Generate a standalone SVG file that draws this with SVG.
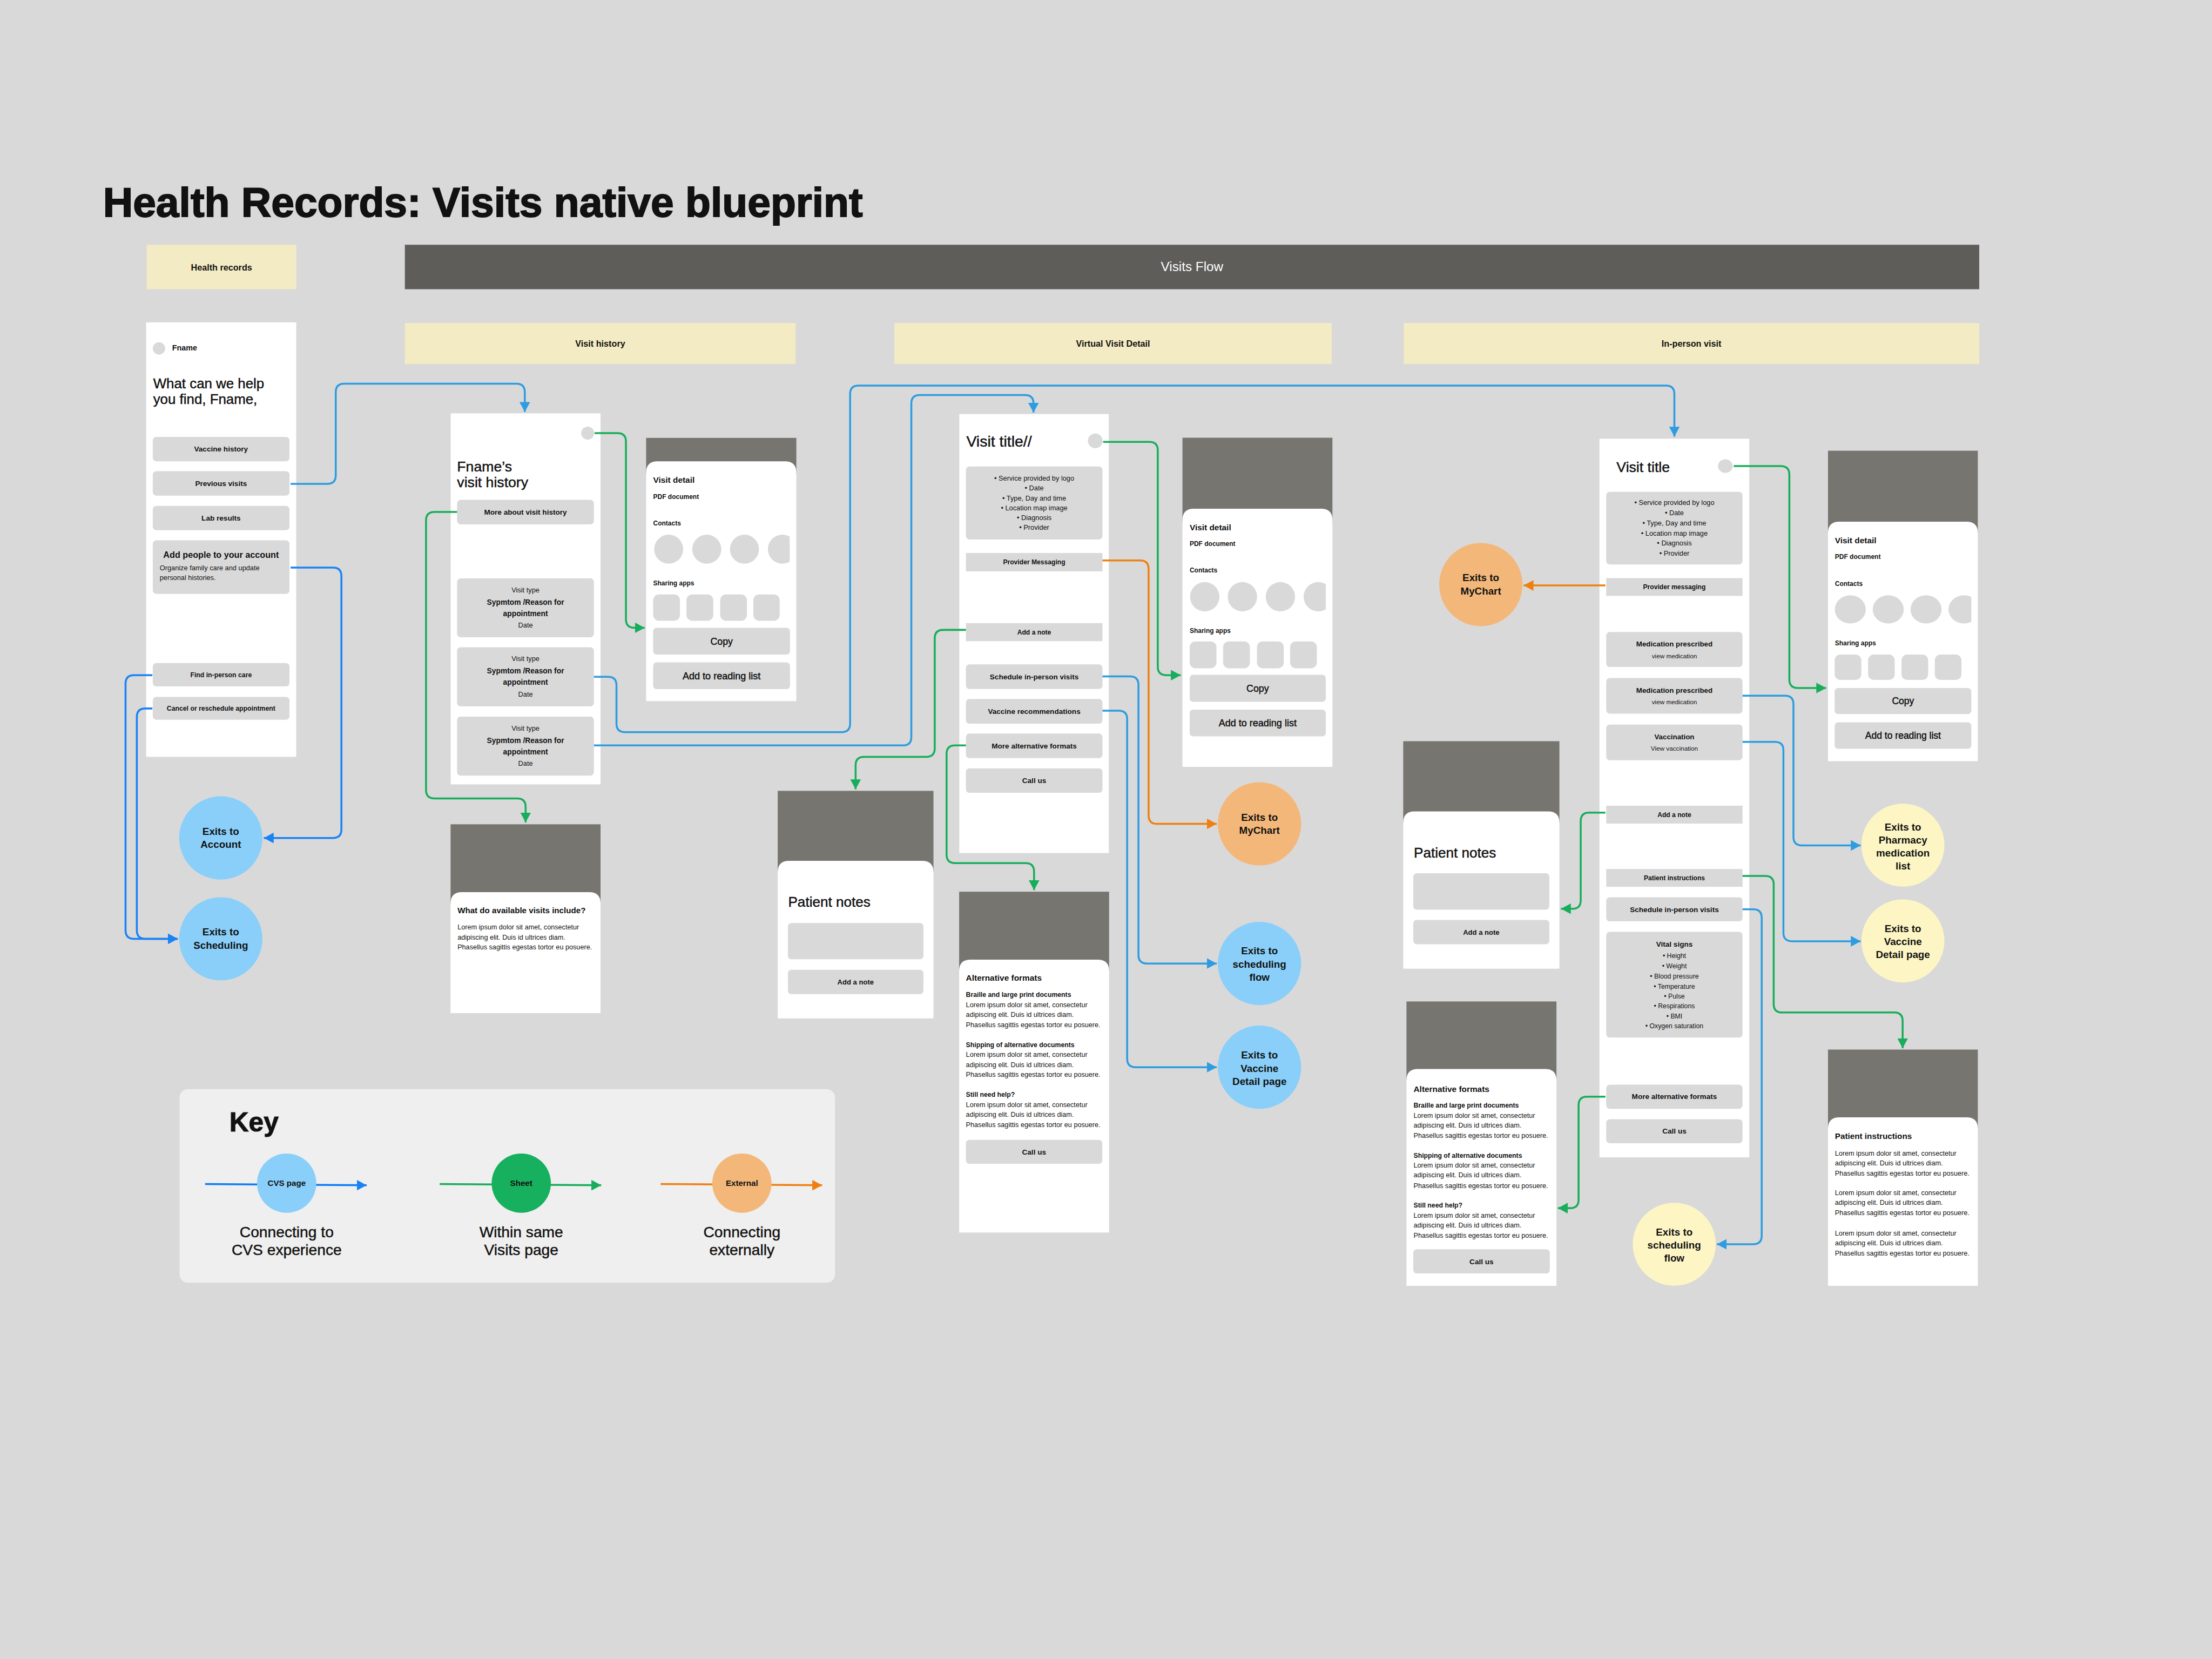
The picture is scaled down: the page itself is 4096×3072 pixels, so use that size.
<svg xmlns="http://www.w3.org/2000/svg" width="4096" height="3072" viewBox="0 0 4096 3072">
<defs>
<style>
.t{font-family:"Liberation Sans",Arial,sans-serif;fill:#111}
.b{font-weight:bold}
.m{text-anchor:middle}
.md{stroke:#111;stroke-width:0.18}
.w{fill:#ffffff}
.g{fill:#d9d9d9}
.dk{fill:#767570}
.hy{fill:#f3ebc3}
.cb{fill:#89cff9}
.co{fill:#f3b77a}
.cy{fill:#fdf6c4}
.cn{fill:none;stroke-width:1.35;stroke-linecap:butt;stroke-linejoin:round}
.bl{stroke:#2d9ce0}
.bb{stroke:#1a82f5}
.gr{stroke:#18ad5b}
.or{stroke:#ef8010}
</style>
<marker id="aBl" viewBox="0 0 10 10" refX="10" refY="5" markerUnits="userSpaceOnUse" markerWidth="7" markerHeight="7.5" preserveAspectRatio="none" orient="auto"><path d="M0,0 L10,5 L0,10 Z" fill="#2d9ce0"/></marker>
<marker id="aBb" viewBox="0 0 10 10" refX="10" refY="5" markerUnits="userSpaceOnUse" markerWidth="7" markerHeight="7.5" preserveAspectRatio="none" orient="auto"><path d="M0,0 L10,5 L0,10 Z" fill="#1a82f5"/></marker>
<marker id="aGr" viewBox="0 0 10 10" refX="10" refY="5" markerUnits="userSpaceOnUse" markerWidth="7" markerHeight="7.5" preserveAspectRatio="none" orient="auto"><path d="M0,0 L10,5 L0,10 Z" fill="#18ad5b"/></marker>
<marker id="aOr" viewBox="0 0 10 10" refX="10" refY="5" markerUnits="userSpaceOnUse" markerWidth="7" markerHeight="7.5" preserveAspectRatio="none" orient="auto"><path d="M0,0 L10,5 L0,10 Z" fill="#ef8010"/></marker>
<clipPath id="clip1"><rect x="458" y="300" width="101.8" height="200"/></clipPath>
<clipPath id="clip2"><rect x="838" y="300" width="101.8" height="250"/></clipPath>
<clipPath id="clip3"><rect x="1295" y="300" width="102.4" height="250"/></clipPath>
</defs>
<rect x="0" y="0" width="4096" height="3072" fill="#d9d9d9"/>
<g transform="scale(2.612245)">

<g id="title">
<text class="t b" x="73" y="153.5" font-size="29.4" style="stroke:#111;stroke-width:0.7">Health Records: Visits native blueprint</text>
</g>

<g id="headers">
<rect class="hy" x="104" y="173.5" width="106" height="31.5"/>
<text class="t b m" x="157" y="191.6" font-size="6.2">Health records</text>
<rect x="287" y="173.5" width="1116" height="31.5" fill="#5e5d59"/>
<text class="t m" x="845" y="192.3" font-size="9.3" style="fill:#ffffff">Visits Flow</text>
<rect class="hy" x="287" y="229" width="277" height="29"/>
<text class="t b m" x="425.5" y="245.7" font-size="6.2">Visit history</text>
<rect class="hy" x="634" y="229" width="310" height="29"/>
<text class="t b m" x="789" y="245.7" font-size="6.2">Virtual Visit Detail</text>
<rect class="hy" x="995" y="229" width="408" height="29"/>
<text class="t b m" x="1199" y="245.7" font-size="6.2">In-person visit</text>
</g>

<g id="node-health-records-home">
<rect class="w" x="103.6" y="228.5" width="106.4" height="308"/>
<circle class="g" cx="112.7" cy="247" r="4.4"/>
<text class="t b" x="122" y="248.6" font-size="5.5">Fname</text>
<text class="t md" x="108.6" y="275.2" font-size="9.9">What can we help</text>
<text class="t md" x="108.6" y="286.4" font-size="9.9">you find, Fname,</text>
<rect class="g" x="108.3" y="309.7" width="96.9" height="17.3" rx="2.5"/>
<text class="t b m" x="156.7" y="320.2" font-size="5.2">Vaccine history</text>
<rect class="g" x="108.3" y="334" width="96.9" height="17.3" rx="2.5"/>
<text class="t b m" x="156.7" y="344.6" font-size="5.2">Previous visits</text>
<rect class="g" x="108.3" y="358.6" width="96.9" height="17.2" rx="2.5"/>
<text class="t b m" x="156.7" y="369.1" font-size="5.2">Lab results</text>
<rect class="g" x="108.3" y="383" width="96.9" height="38" rx="2.5"/>
<text class="t b m" x="156.7" y="395.6" font-size="6.2">Add people to your account</text>
<text class="t" x="113.2" y="404.1" font-size="4.9">Organize family care and update</text>
<text class="t" x="113.2" y="411" font-size="4.9">personal histories.</text>
<rect class="g" x="108.3" y="470" width="96.9" height="16.6" rx="2.5"/>
<text class="t b m" x="156.7" y="480" font-size="4.7">Find in-person care</text>
<rect class="g" x="108.3" y="494" width="96.9" height="16.2" rx="2.5"/>
<text class="t b m" x="156.7" y="503.8" font-size="4.7">Cancel or reschedule appointment</text>
</g>

<g id="node-exit-account">
<circle class="cb" cx="156.5" cy="594" r="29.5"/>
<text class="t b m" x="156.5" y="591.7" font-size="7.2">Exits to</text>
<text class="t b m" x="156.5" y="601" font-size="7.2">Account</text>
</g>
<g id="node-exit-scheduling">
<circle class="cb" cx="156.5" cy="665.5" r="29.5"/>
<text class="t b m" x="156.5" y="663.2" font-size="7.2">Exits to</text>
<text class="t b m" x="156.5" y="672.5" font-size="7.2">Scheduling</text>
</g>

<g id="node-visit-history">
<rect class="w" x="319.5" y="293" width="106.2" height="263"/>
<circle class="g" cx="416.6" cy="307" r="4.6"/>
<text class="t md" x="324" y="334.3" font-size="10.2">Fname’s</text>
<text class="t md" x="324" y="345.3" font-size="10.2">visit history</text>
<rect class="g" x="324" y="354.3" width="97" height="17.4" rx="2.5"/>
<text class="t b m" x="372.5" y="364.9" font-size="5.2">More about visit history</text>
<rect class="g" x="324" y="410" width="97" height="41.7" rx="2.5"/>
<text class="t m" x="372.5" y="419.8" font-size="4.9">Visit type</text>
<text class="t b m" x="372.5" y="428.7" font-size="5.3">Sypmtom /Reason for</text>
<text class="t b m" x="372.5" y="436.6" font-size="5.3">appointment</text>
<text class="t m" x="372.5" y="445" font-size="4.9">Date</text>
<rect class="g" x="324" y="458.8" width="97" height="41.9" rx="2.5"/>
<text class="t m" x="372.5" y="468.6" font-size="4.9">Visit type</text>
<text class="t b m" x="372.5" y="477.5" font-size="5.3">Sypmtom /Reason for</text>
<text class="t b m" x="372.5" y="485.4" font-size="5.3">appointment</text>
<text class="t m" x="372.5" y="493.8" font-size="4.9">Date</text>
<rect class="g" x="324" y="508" width="97" height="41.8" rx="2.5"/>
<text class="t m" x="372.5" y="517.8" font-size="4.9">Visit type</text>
<text class="t b m" x="372.5" y="526.7" font-size="5.3">Sypmtom /Reason for</text>
<text class="t b m" x="372.5" y="534.6" font-size="5.3">appointment</text>
<text class="t m" x="372.5" y="543" font-size="4.9">Date</text>
</g>

<g id="node-visit-detail-sheet-1">
<rect class="dk" x="458" y="310.4" width="106.5" height="26"/>
<path class="w" d="M458,497 V335 Q458,327 466,327 H556.5 Q564.5,327 564.5,335 V497 Z"/>
<text class="t b" x="463" y="342.2" font-size="5.9">Visit detail</text>
<text class="t b" x="463" y="353.8" font-size="4.6">PDF document</text>
<text class="t b" x="463" y="372.4" font-size="4.6">Contacts</text>
<g clip-path="url(#clip1)">
<circle class="g" cx="474" cy="389.3" r="10.3"/>
<circle class="g" cx="501" cy="389.3" r="10.3"/>
<circle class="g" cx="527.7" cy="389.3" r="10.3"/>
<circle class="g" cx="554.6" cy="389.3" r="10.3"/>
</g>
<text class="t b" x="463" y="414.8" font-size="4.6">Sharing apps</text>
<rect class="g" x="463" y="421.4" width="19" height="18.6" rx="4"/>
<rect class="g" x="486.6" y="421.4" width="19" height="18.6" rx="4"/>
<rect class="g" x="510.5" y="421.4" width="19" height="18.6" rx="4"/>
<rect class="g" x="534" y="421.4" width="18.7" height="18.6" rx="4"/>
<rect class="g" x="463" y="445" width="97" height="19" rx="2.5"/>
<text class="t m md" x="511.5" y="457.2" font-size="6.8">Copy</text>
<rect class="g" x="463" y="469.5" width="97" height="19" rx="2.5"/>
<text class="t m md" x="511.5" y="481.7" font-size="6.9">Add to reading list</text>
</g>

<g id="node-what-do-visits-include">
<rect class="dk" x="319.4" y="584.3" width="106.3" height="56"/>
<path class="w" d="M319.4,718.2 V640.4 Q319.4,632.4 327.4,632.4 H417.7 Q425.7,632.4 425.7,640.4 V718.2 Z"/>
<text class="t b" x="324.3" y="647.5" font-size="5.8">What do available visits include?</text>
<text class="t" x="324.3" y="659" font-size="4.85">Lorem ipsum dolor sit amet, consectetur</text>
<text class="t" x="324.3" y="666" font-size="4.85">adipiscing elit. Duis id ultrices diam.</text>
<text class="t" x="324.3" y="673" font-size="4.85">Phasellus sagittis egestas tortor eu posuere.</text>
</g>

<g id="node-virtual-visit">
<rect class="w" x="680" y="293.5" width="106" height="311.2"/>
<text class="t md" x="685" y="316.7" font-size="10.9">Visit title//</text>
<circle class="g" cx="776.4" cy="312.5" r="5.2"/>
<rect class="g" x="684.7" y="330.7" width="96.8" height="51.7" rx="2.5"/>
<text class="t m" x="733.1" y="340.7" font-size="4.9">•  Service provided by logo</text>
<text class="t m" x="733.1" y="347.7" font-size="4.9">•  Date</text>
<text class="t m" x="733.1" y="354.7" font-size="4.9">•  Type, Day and time</text>
<text class="t m" x="733.1" y="361.7" font-size="4.9">•  Location map image</text>
<text class="t m" x="733.1" y="368.7" font-size="4.9">•  Diagnosis</text>
<text class="t m" x="733.1" y="375.7" font-size="4.9">•  Provider</text>
<rect class="g" x="684.7" y="392" width="96.8" height="13"/>
<text class="t b m" x="733.1" y="400.2" font-size="4.65">Provider Messaging</text>
<rect class="g" x="684.7" y="441.7" width="96.8" height="12.8"/>
<text class="t b m" x="733.1" y="449.8" font-size="4.65">Add a note</text>
<rect class="g" x="684.7" y="471" width="96.8" height="17.4" rx="2.5"/>
<text class="t b m" x="733.1" y="481.5" font-size="5.2">Schedule in-person visits</text>
<rect class="g" x="684.7" y="495.5" width="96.8" height="17.5" rx="2.5"/>
<text class="t b m" x="733.1" y="506" font-size="5.2">Vaccine recommendations</text>
<rect class="g" x="684.7" y="520" width="96.8" height="17.4" rx="2.5"/>
<text class="t b m" x="733.1" y="530.5" font-size="5.2">More alternative formats</text>
<rect class="g" x="684.7" y="544.6" width="96.8" height="17.4" rx="2.5"/>
<text class="t b m" x="733.1" y="555.1" font-size="5.2">Call us</text>
</g>

<g id="node-visit-detail-sheet-2">
<rect class="dk" x="838.2" y="310.3" width="106.3" height="60"/>
<path class="w" d="M838.2,543.6 V368.6 Q838.2,360.6 846.2,360.6 H936.5 Q944.5,360.6 944.5,368.6 V543.6 Z"/>
<text class="t b" x="843.3" y="376" font-size="5.9">Visit detail</text>
<text class="t b" x="843.3" y="387" font-size="4.6">PDF document</text>
<text class="t b" x="843.3" y="405.7" font-size="4.6">Contacts</text>
<g clip-path="url(#clip2)">
<circle class="g" cx="854" cy="423" r="10.4"/>
<circle class="g" cx="880.7" cy="423" r="10.4"/>
<circle class="g" cx="907.6" cy="423" r="10.4"/>
<circle class="g" cx="934.5" cy="423" r="10.4"/>
</g>
<text class="t b" x="843.3" y="448.5" font-size="4.6">Sharing apps</text>
<rect class="g" x="843.3" y="454.7" width="19" height="19" rx="4"/>
<rect class="g" x="867" y="454.7" width="19" height="19" rx="4"/>
<rect class="g" x="891" y="454.7" width="19" height="19" rx="4"/>
<rect class="g" x="914.5" y="454.7" width="19" height="19" rx="4"/>
<rect class="g" x="843.3" y="478.3" width="96.5" height="19.2" rx="2.5"/>
<text class="t m md" x="891.5" y="490.4" font-size="6.8">Copy</text>
<rect class="g" x="843.3" y="503" width="96.5" height="19" rx="2.5"/>
<text class="t m md" x="891.5" y="515" font-size="6.9">Add to reading list</text>
</g>

<g id="node-exit-mychart-1">
<circle class="co" cx="892.8" cy="584" r="29.5"/>
<text class="t b m" x="892.8" y="581.7" font-size="7.2">Exits to</text>
<text class="t b m" x="892.8" y="591" font-size="7.2">MyChart</text>
</g>
<g id="node-exit-scheduling-flow-1">
<circle class="cb" cx="892.8" cy="683" r="29.5"/>
<text class="t b m" x="892.8" y="676.5" font-size="7.2">Exits to</text>
<text class="t b m" x="892.8" y="685.9" font-size="7.2">scheduling</text>
<text class="t b m" x="892.8" y="695.1" font-size="7.2">flow</text>
</g>
<g id="node-exit-vaccine-detail-1">
<circle class="cb" cx="892.8" cy="756.5" r="29.5"/>
<text class="t b m" x="892.8" y="750.4" font-size="7.2">Exits to</text>
<text class="t b m" x="892.8" y="759.7" font-size="7.2">Vaccine</text>
<text class="t b m" x="892.8" y="768.9" font-size="7.2">Detail page</text>
</g>

<g id="node-patient-notes-1">
<rect class="dk" x="551.3" y="560.6" width="110.4" height="58"/>
<path class="w" d="M551.3,721.9 V618.2 Q551.3,610.2 559.3,610.2 H653.7 Q661.7,610.2 661.7,618.2 V721.9 Z"/>
<text class="t md" x="558.7" y="642.7" font-size="10">Patient notes</text>
<rect class="g" x="558.5" y="654.3" width="96.1" height="25.7" rx="2.5"/>
<rect class="g" x="558.5" y="687.4" width="96.1" height="17.3" rx="2.5"/>
<text class="t b m" x="606.5" y="697.8" font-size="5">Add a note</text>
</g>

<g id="node-alternative-formats-1">
<rect class="dk" x="679.9" y="632.1" width="106.3" height="56"/>
<path class="w" d="M679.9,873.7 V688.3 Q679.9,680.3 687.9,680.3 H778.2 Q786.2,680.3 786.2,688.3 V873.7 Z"/>
<text class="t b" x="684.7" y="695.3" font-size="5.9">Alternative formats</text>
<text class="t b" x="684.7" y="706.7" font-size="4.7">Braille and large print documents</text>
<text class="t" x="684.7" y="713.8" font-size="4.85">Lorem ipsum dolor sit amet, consectetur</text>
<text class="t" x="684.7" y="721" font-size="4.85">adipiscing elit. Duis id ultrices diam.</text>
<text class="t" x="684.7" y="728.1" font-size="4.85">Phasellus sagittis egestas tortor eu posuere.</text>
<text class="t b" x="684.7" y="742.2" font-size="4.7">Shipping of alternative documents</text>
<text class="t" x="684.7" y="749.3" font-size="4.85">Lorem ipsum dolor sit amet, consectetur</text>
<text class="t" x="684.7" y="756.4" font-size="4.85">adipiscing elit. Duis id ultrices diam.</text>
<text class="t" x="684.7" y="763.5" font-size="4.85">Phasellus sagittis egestas tortor eu posuere.</text>
<text class="t b" x="684.7" y="777.6" font-size="4.7">Still need help?</text>
<text class="t" x="684.7" y="784.7" font-size="4.85">Lorem ipsum dolor sit amet, consectetur</text>
<text class="t" x="684.7" y="791.8" font-size="4.85">adipiscing elit. Duis id ultrices diam.</text>
<text class="t" x="684.7" y="798.9" font-size="4.85">Phasellus sagittis egestas tortor eu posuere.</text>
<rect class="g" x="684.7" y="808" width="96.7" height="17" rx="2.5"/>
<text class="t b m" x="733" y="818.4" font-size="5.2">Call us</text>
</g>

<g id="node-in-person-visit">
<rect class="w" x="1133.8" y="311" width="106.2" height="509.4"/>
<text class="t md" x="1145.9" y="334.5" font-size="10.2">Visit title</text>
<ellipse class="g" cx="1223" cy="330.4" rx="5.2" ry="4.8"/>
<rect class="g" x="1138.6" y="348.6" width="96.6" height="51.5" rx="2.5"/>
<text class="t m" x="1186.9" y="358.1" font-size="4.9">•  Service provided by logo</text>
<text class="t m" x="1186.9" y="365.2" font-size="4.9">•  Date</text>
<text class="t m" x="1186.9" y="372.4" font-size="4.9">•  Type, Day and time</text>
<text class="t m" x="1186.9" y="379.6" font-size="4.9">•  Location map image</text>
<text class="t m" x="1186.9" y="386.7" font-size="4.9">•  Diagnosis</text>
<text class="t m" x="1186.9" y="393.8" font-size="4.9">•  Provider</text>
<rect class="g" x="1138.6" y="409.8" width="96.6" height="12.6"/>
<text class="t b m" x="1186.9" y="417.8" font-size="4.65">Provider messaging</text>
<rect class="g" x="1138.6" y="448" width="96.6" height="24.8" rx="2.5"/>
<text class="t b m" x="1186.9" y="458.3" font-size="5.1">Medication prescribed</text>
<text class="t m" x="1186.9" y="466.6" font-size="4.5">view medication</text>
<rect class="g" x="1138.6" y="480.6" width="96.6" height="25.3" rx="2.5"/>
<text class="t b m" x="1186.9" y="491" font-size="5.1">Medication prescribed</text>
<text class="t m" x="1186.9" y="499.3" font-size="4.5">view medication</text>
<rect class="g" x="1138.6" y="513.6" width="96.6" height="25.3" rx="2.5"/>
<text class="t b m" x="1186.9" y="524" font-size="5.1">Vaccination</text>
<text class="t m" x="1186.9" y="532" font-size="4.5">View vaccination</text>
<rect class="g" x="1138.6" y="571.1" width="96.6" height="12.7"/>
<text class="t b m" x="1186.9" y="579.2" font-size="4.65">Add a note</text>
<rect class="g" x="1138.6" y="616" width="96.6" height="12.6"/>
<text class="t b m" x="1186.9" y="624" font-size="4.65">Patient instructions</text>
<rect class="g" x="1138.6" y="636" width="96.6" height="17.1" rx="2.5"/>
<text class="t b m" x="1186.9" y="646.4" font-size="5.2">Schedule in-person visits</text>
<rect class="g" x="1138.6" y="660.5" width="96.6" height="75" rx="2.5"/>
<text class="t b m" x="1186.9" y="671.1" font-size="5.2">Vital signs</text>
<text class="t m" x="1186.9" y="679.3" font-size="4.7">•  Height</text>
<text class="t m" x="1186.9" y="686.4" font-size="4.7">•  Weight</text>
<text class="t m" x="1186.9" y="693.8" font-size="4.7">•  Blood pressure</text>
<text class="t m" x="1186.9" y="700.8" font-size="4.7">•  Temperature</text>
<text class="t m" x="1186.9" y="707.9" font-size="4.7">•  Pulse</text>
<text class="t m" x="1186.9" y="714.9" font-size="4.7">•  Respirations</text>
<text class="t m" x="1186.9" y="722" font-size="4.7">•  BMI</text>
<text class="t m" x="1186.9" y="729" font-size="4.7">•  Oxygen saturation</text>
<rect class="g" x="1138.6" y="768.9" width="96.6" height="17.1" rx="2.5"/>
<text class="t b m" x="1186.9" y="779.2" font-size="5.2">More alternative formats</text>
<rect class="g" x="1138.6" y="793.4" width="96.6" height="17" rx="2.5"/>
<text class="t b m" x="1186.9" y="803.7" font-size="5.2">Call us</text>
</g>

<g id="node-visit-detail-sheet-3">
<rect class="dk" x="1295.8" y="319.5" width="106.2" height="58"/>
<path class="w" d="M1295.8,539.6 V377.8 Q1295.8,369.8 1303.8,369.8 H1394 Q1402,369.8 1402,377.8 V539.6 Z"/>
<text class="t b" x="1300.7" y="385.2" font-size="5.9">Visit detail</text>
<text class="t b" x="1300.7" y="396.3" font-size="4.6">PDF document</text>
<text class="t b" x="1300.7" y="415.5" font-size="4.6">Contacts</text>
<g clip-path="url(#clip3)">
<ellipse class="g" cx="1311.6" cy="432" rx="11" ry="10"/>
<ellipse class="g" cx="1338.5" cy="432" rx="11" ry="10"/>
<ellipse class="g" cx="1365.3" cy="432" rx="11" ry="10"/>
<ellipse class="g" cx="1392.2" cy="432" rx="11" ry="10"/>
</g>
<text class="t b" x="1300.7" y="457.4" font-size="4.6">Sharing apps</text>
<rect class="g" x="1300.5" y="464" width="18.9" height="18" rx="4"/>
<rect class="g" x="1324.2" y="464" width="18.9" height="18" rx="4"/>
<rect class="g" x="1347.9" y="464" width="18.9" height="18" rx="4"/>
<rect class="g" x="1371.5" y="464" width="18.9" height="18" rx="4"/>
<rect class="g" x="1300.5" y="487.7" width="96.9" height="18.5" rx="2.5"/>
<text class="t m md" x="1349" y="499.3" font-size="6.7">Copy</text>
<rect class="g" x="1300.5" y="512" width="96.9" height="18.8" rx="2.5"/>
<text class="t m md" x="1349" y="523.7" font-size="6.7">Add to reading list</text>
</g>

<g id="node-exit-mychart-2">
<circle class="co" cx="1049.7" cy="414.4" r="29.5"/>
<text class="t b m" x="1049.7" y="412" font-size="7.2">Exits to</text>
<text class="t b m" x="1049.7" y="421.3" font-size="7.2">MyChart</text>
</g>

<g id="node-patient-notes-2">
<rect class="dk" x="994.7" y="525.4" width="110.7" height="58"/>
<path class="w" d="M994.7,686.7 V583.2 Q994.7,575.2 1002.7,575.2 H1097.4 Q1105.4,575.2 1105.4,583.2 V686.7 Z"/>
<text class="t md" x="1002.2" y="608" font-size="10">Patient notes</text>
<rect class="g" x="1001.8" y="619" width="96.5" height="25.8" rx="2.5"/>
<rect class="g" x="1001.8" y="652.1" width="96.5" height="17.2" rx="2.5"/>
<text class="t b m" x="1050" y="662.5" font-size="5">Add a note</text>
</g>

<g id="node-alternative-formats-2">
<rect class="dk" x="997" y="709.9" width="106.3" height="56"/>
<path class="w" d="M997,911.5 V765.8 Q997,757.8 1005,757.8 H1095.3 Q1103.3,757.8 1103.3,765.8 V911.5 Z"/>
<text class="t b" x="1002" y="774" font-size="5.9">Alternative formats</text>
<text class="t b" x="1002" y="785.3" font-size="4.7">Braille and large print documents</text>
<text class="t" x="1002" y="792.4" font-size="4.85">Lorem ipsum dolor sit amet, consectetur</text>
<text class="t" x="1002" y="799.4" font-size="4.85">adipiscing elit. Duis id ultrices diam.</text>
<text class="t" x="1002" y="806.6" font-size="4.85">Phasellus sagittis egestas tortor eu posuere.</text>
<text class="t b" x="1002" y="820.6" font-size="4.7">Shipping of alternative documents</text>
<text class="t" x="1002" y="827.7" font-size="4.85">Lorem ipsum dolor sit amet, consectetur</text>
<text class="t" x="1002" y="834.7" font-size="4.85">adipiscing elit. Duis id ultrices diam.</text>
<text class="t" x="1002" y="842" font-size="4.85">Phasellus sagittis egestas tortor eu posuere.</text>
<text class="t b" x="1002" y="856" font-size="4.7">Still need help?</text>
<text class="t" x="1002" y="863.3" font-size="4.85">Lorem ipsum dolor sit amet, consectetur</text>
<text class="t" x="1002" y="870.3" font-size="4.85">adipiscing elit. Duis id ultrices diam.</text>
<text class="t" x="1002" y="877.4" font-size="4.85">Phasellus sagittis egestas tortor eu posuere.</text>
<rect class="g" x="1001.8" y="885.5" width="96.8" height="17.2" rx="2.5"/>
<text class="t b m" x="1050.2" y="896" font-size="5.2">Call us</text>
</g>

<g id="node-exit-pharmacy">
<circle class="cy" cx="1348.9" cy="599.1" r="29.4"/>
<text class="t b m" x="1348.9" y="588.6" font-size="7.2">Exits to</text>
<text class="t b m" x="1348.9" y="597.8" font-size="7.2">Pharmacy</text>
<text class="t b m" x="1348.9" y="607" font-size="7.2">medication</text>
<text class="t b m" x="1348.9" y="616.2" font-size="7.2">list</text>
</g>
<g id="node-exit-vaccine-detail-2">
<circle class="cy" cx="1348.9" cy="667" r="29.4"/>
<text class="t b m" x="1348.9" y="660.8" font-size="7.2">Exits to</text>
<text class="t b m" x="1348.9" y="670" font-size="7.2">Vaccine</text>
<text class="t b m" x="1348.9" y="679.2" font-size="7.2">Detail page</text>
</g>

<g id="node-patient-instructions">
<rect class="dk" x="1295.8" y="744" width="106.2" height="56"/>
<path class="w" d="M1295.8,911.5 V800 Q1295.8,792 1303.8,792 H1394 Q1402,792 1402,800 V911.5 Z"/>
<text class="t b" x="1300.7" y="807.4" font-size="5.85">Patient instructions</text>
<text class="t" x="1300.7" y="819.3" font-size="4.85">Lorem ipsum dolor sit amet, consectetur</text>
<text class="t" x="1300.7" y="826.2" font-size="4.85">adipiscing elit. Duis id ultrices diam.</text>
<text class="t" x="1300.7" y="833.5" font-size="4.85">Phasellus sagittis egestas tortor eu posuere.</text>
<text class="t" x="1300.7" y="847.3" font-size="4.85">Lorem ipsum dolor sit amet, consectetur</text>
<text class="t" x="1300.7" y="854.2" font-size="4.85">adipiscing elit. Duis id ultrices diam.</text>
<text class="t" x="1300.7" y="861.5" font-size="4.85">Phasellus sagittis egestas tortor eu posuere.</text>
<text class="t" x="1300.7" y="875.7" font-size="4.85">Lorem ipsum dolor sit amet, consectetur</text>
<text class="t" x="1300.7" y="882.6" font-size="4.85">adipiscing elit. Duis id ultrices diam.</text>
<text class="t" x="1300.7" y="890" font-size="4.85">Phasellus sagittis egestas tortor eu posuere.</text>
</g>

<g id="node-exit-scheduling-flow-2">
<circle class="cy" cx="1186.8" cy="882" r="29.4"/>
<text class="t b m" x="1186.8" y="876" font-size="7.2">Exits to</text>
<text class="t b m" x="1186.8" y="884.9" font-size="7.2">scheduling</text>
<text class="t b m" x="1186.8" y="894.1" font-size="7.2">flow</text>
</g>

<g id="key">
<rect x="127.3" y="772" width="464.6" height="137.3" rx="6" fill="#efefef"/>
<text class="t b" x="162.6" y="802" font-size="19" style="stroke:#111;stroke-width:0.4">Key</text>
<path class="cn" d="M145.4,839.3 L259.9,840.2" stroke="#0a7df8" marker-end="url(#aBb)"/>
<circle class="cb" cx="203.2" cy="838.7" r="21"/>
<text class="t b m" x="203.2" y="840.8" font-size="5.8">CVS page</text>
<path class="cn gr" d="M311.7,839.3 L426.2,840.2" marker-end="url(#aGr)"/>
<circle cx="369.5" cy="838.7" r="21" fill="#17b05e"/>
<text class="t b m" x="369.5" y="840.8" font-size="5.8">Sheet</text>
<path class="cn or" d="M468.3,839.3 L582.8,840.2" marker-end="url(#aOr)"/>
<circle class="co" cx="525.9" cy="838.7" r="21"/>
<text class="t b m" x="525.9" y="840.8" font-size="5.8">External</text>
<text class="t m md" x="203.2" y="876.9" font-size="10.8">Connecting to</text>
<text class="t m md" x="203.2" y="889.6" font-size="10.8">CVS experience</text>
<text class="t m md" x="369.5" y="876.9" font-size="10.8">Within same</text>
<text class="t m md" x="369.5" y="889.6" font-size="10.8">Visits page</text>
<text class="t m md" x="525.9" y="876.9" font-size="10.8">Connecting</text>
<text class="t m md" x="525.9" y="889.6" font-size="10.8">externally</text>
</g>

<g id="connectors">
<path class="cn bl" marker-end="url(#aBl)" d="M206,343 H232 Q238,343 238,337 V278 Q238,272 244,272 H366 Q372,272 372,278 V292"/>
<path class="cn bb" marker-end="url(#aBb)" d="M206,402.3 H236 Q242,402.3 242,408.3 V588 Q242,594 236,594 H187"/>
<path class="cn bb" marker-end="url(#aBb)" d="M108,478.6 H95 Q89,478.6 89,484.6 V659.5 Q89,665.5 95,665.5 H126"/>
<path class="cn bb" marker-end="url(#aBb)" d="M108,502.2 H103 Q97,502.2 97,508.2 V659.5 Q97,665.5 103,665.5 H126"/>
<path class="cn gr" marker-end="url(#aGr)" d="M421.5,307 H437.7 Q443.7,307 443.7,313 V439 Q443.7,445 449.7,445 H457"/>
<path class="cn gr" marker-end="url(#aGr)" d="M324,362.9 H308 Q302,362.9 302,368.9 V560 Q302,566 308,566 H366.6 Q372.6,566 372.6,572 V583"/>
<path class="cn bl" marker-end="url(#aBl)" d="M421,479.8 H431 Q437,479.8 437,485.8 V513 Q437,519 443,519 H596.6 Q602.6,519 602.6,513 V279.3 Q602.6,273.3 608.6,273.3 H1180.9 Q1186.9,273.3 1186.9,279.3 V309.5"/>
<path class="cn bl" marker-end="url(#aBl)" d="M421,528.4 H640 Q646,528.4 646,522.4 V286 Q646,280 652,280 H726.6 Q732.6,280 732.6,286 V292.5"/>
<path class="cn gr" marker-end="url(#aGr)" d="M782,313.2 H814.7 Q820.7,313.2 820.7,319.2 V472.6 Q820.7,478.6 826.7,478.6 H837"/>
<path class="cn or" marker-end="url(#aOr)" d="M781.5,397.3 H808.2 Q814.2,397.3 814.2,403.3 V578 Q814.2,584 820.2,584 H862.5"/>
<path class="cn bl" marker-end="url(#aBl)" d="M781.5,479.5 H801 Q807,479.5 807,485.5 V677 Q807,683 813,683 H862.5"/>
<path class="cn bl" marker-end="url(#aBl)" d="M781.5,503.8 H793 Q799,503.8 799,509.8 V750.5 Q799,756.5 805,756.5 H862.5"/>
<path class="cn gr" marker-end="url(#aGr)" d="M684.7,446.5 H668.6 Q662.6,446.5 662.6,452.5 V530.5 Q662.6,536.5 656.6,536.5 H612.5 Q606.5,536.5 606.5,542.5 V559.5"/>
<path class="cn gr" marker-end="url(#aGr)" d="M684.7,528.4 H677 Q671,528.4 671,534.4 V605.8 Q671,611.8 677,611.8 H727 Q733,611.8 733,617.8 V631"/>
<path class="cn gr" marker-end="url(#aGr)" d="M1229,330.4 H1262.4 Q1268.4,330.4 1268.4,336.4 V481.7 Q1268.4,487.7 1274.4,487.7 H1294.5"/>
<path class="cn or" marker-end="url(#aOr)" d="M1138,415 H1080"/>
<path class="cn bl" marker-end="url(#aBl)" d="M1235.2,493.2 H1265.3 Q1271.3,493.2 1271.3,499.2 V593.3 Q1271.3,599.3 1277.3,599.3 H1319"/>
<path class="cn bl" marker-end="url(#aBl)" d="M1235.2,525.9 H1258.2 Q1264.2,525.9 1264.2,531.9 V661.2 Q1264.2,667.2 1270.2,667.2 H1319"/>
<path class="cn gr" marker-end="url(#aGr)" d="M1138,576 H1126.5 Q1120.5,576 1120.5,582 V638.2 Q1120.5,644.2 1114.5,644.2 H1106.5"/>
<path class="cn gr" marker-end="url(#aGr)" d="M1235.2,620.9 H1251.3 Q1257.3,620.9 1257.3,626.9 V711.7 Q1257.3,717.7 1263.3,717.7 H1342.7 Q1348.7,717.7 1348.7,723.7 V743"/>
<path class="cn bl" marker-end="url(#aBl)" d="M1235.2,644.6 H1242.8 Q1248.8,644.6 1248.8,650.6 V876 Q1248.8,882 1242.8,882 H1217"/>
<path class="cn gr" marker-end="url(#aGr)" d="M1138,777.4 H1125 Q1119,777.4 1119,783.4 V850.4 Q1119,856.4 1113,856.4 H1104.3"/>
</g>

</g>
</svg>
